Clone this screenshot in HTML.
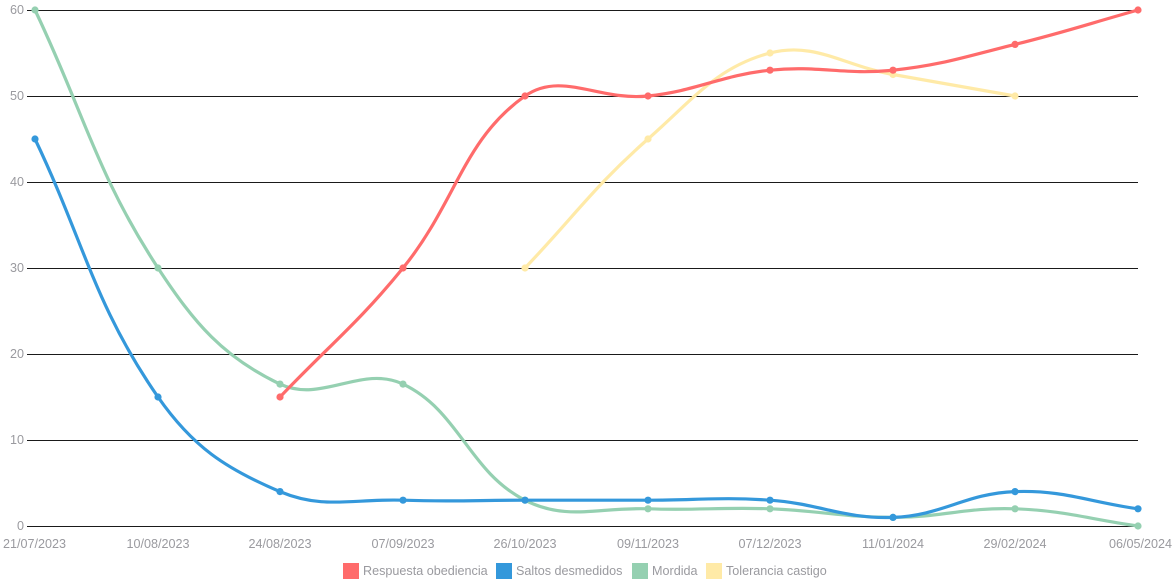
<!DOCTYPE html>
<html><head><meta charset="utf-8"><style>
body{margin:0;background:#fff;width:1175px;height:587px;overflow:hidden}
svg{display:block}
text{font-family:"Liberation Sans",sans-serif;font-size:12.6px;fill:#9a9a9f}
</style></head><body>
<svg id="c" width="1175" height="587" xmlns="http://www.w3.org/2000/svg"></svg>
<script>
const svg=document.getElementById('c');
const NS='http://www.w3.org/2000/svg';
function el(n,a,t){const e=document.createElementNS(NS,n);for(const k in a)e.setAttribute(k,a[k]);if(t!=null)e.textContent=t;svg.appendChild(e);return e;}
const xs=[35,158,280,403,525,648,770,893,1015,1138];
const Y=v=>526-v*8.6;
for(let v=0;v<=60;v+=10){const y=Math.round(Y(v))+0.5;el('line',{x1:27,x2:1138,y1:y,y2:y,stroke:'#1a1a1a','stroke-width':1,'shape-rendering':'crispEdges'});
el('text',{x:24,y:Y(v)+4,'text-anchor':'end'},v);}
const labels=['21/07/2023','10/08/2023','24/08/2023','07/09/2023','26/10/2023','09/11/2023','07/12/2023','11/01/2024','29/02/2024','06/05/2024'];
labels.forEach((l,i)=>{let x=xs[i];let a='middle';if(i==0){x=3;a='start'}if(i==9){x=1172;a='end'}el('text',{x:x,y:548,'text-anchor':a},l)});
const series=[
 {c:'#ffeaa7',s:4,d:[30,45,55,52.5,50]},
 {c:'#95d0b1',s:0,d:[60,30,16.5,16.5,3,2,2,1,2,0]},
 {c:'#3498db',s:0,d:[45,15,4,3,3,3,3,1,4,2]},
 {c:'#ff6b6b',s:2,d:[15,30,50,50,53,53,56,60]}];
const T=0.4;
series.forEach(sr=>{
 const p=sr.d.map((v,i)=>({x:xs[i+sr.s],y:Y(v)}));
 const cps=p.map((cur,i)=>{const pr=p[i-1]||cur,nx=p[i+1]||cur;
  const d01=Math.hypot(cur.x-pr.x,cur.y-pr.y),d12=Math.hypot(nx.x-cur.x,nx.y-cur.y);
  let s01=d01/(d01+d12),s12=d12/(d01+d12);if(isNaN(s01))s01=0;if(isNaN(s12))s12=0;
  const fa=T*s01,fb=T*s12;
  const cl=y=>Math.max(10,Math.min(526,y));
  return {px:cur.x-fa*(nx.x-pr.x),py:cl(cur.y-fa*(nx.y-pr.y)),nx:cur.x+fb*(nx.x-pr.x),ny:cl(cur.y+fb*(nx.y-pr.y))};});
 let d='M'+p[0].x+' '+p[0].y;
 for(let i=1;i<p.length;i++)d+=` C${cps[i-1].nx} ${cps[i-1].ny} ${cps[i].px} ${cps[i].py} ${p[i].x} ${p[i].y}`;
 el('path',{d:d,fill:'none',stroke:sr.c,'stroke-width':3.2});
 p.forEach(q=>el('circle',{cx:q.x,cy:q.y,r:3.6,fill:sr.c}));
});
const leg=[[343,363,'#ff6b6b','Respuesta obediencia'],[496,516,'#3498db','Saltos desmedidos'],[632,652,'#95d0b1','Mordida'],[706,726,'#ffeaa7','Tolerancia castigo']];
leg.forEach(l=>{el('rect',{x:l[0],y:563,width:16,height:16,fill:l[2]});el('text',{x:l[1],y:575},l[3]);});
</script>
</body></html>
